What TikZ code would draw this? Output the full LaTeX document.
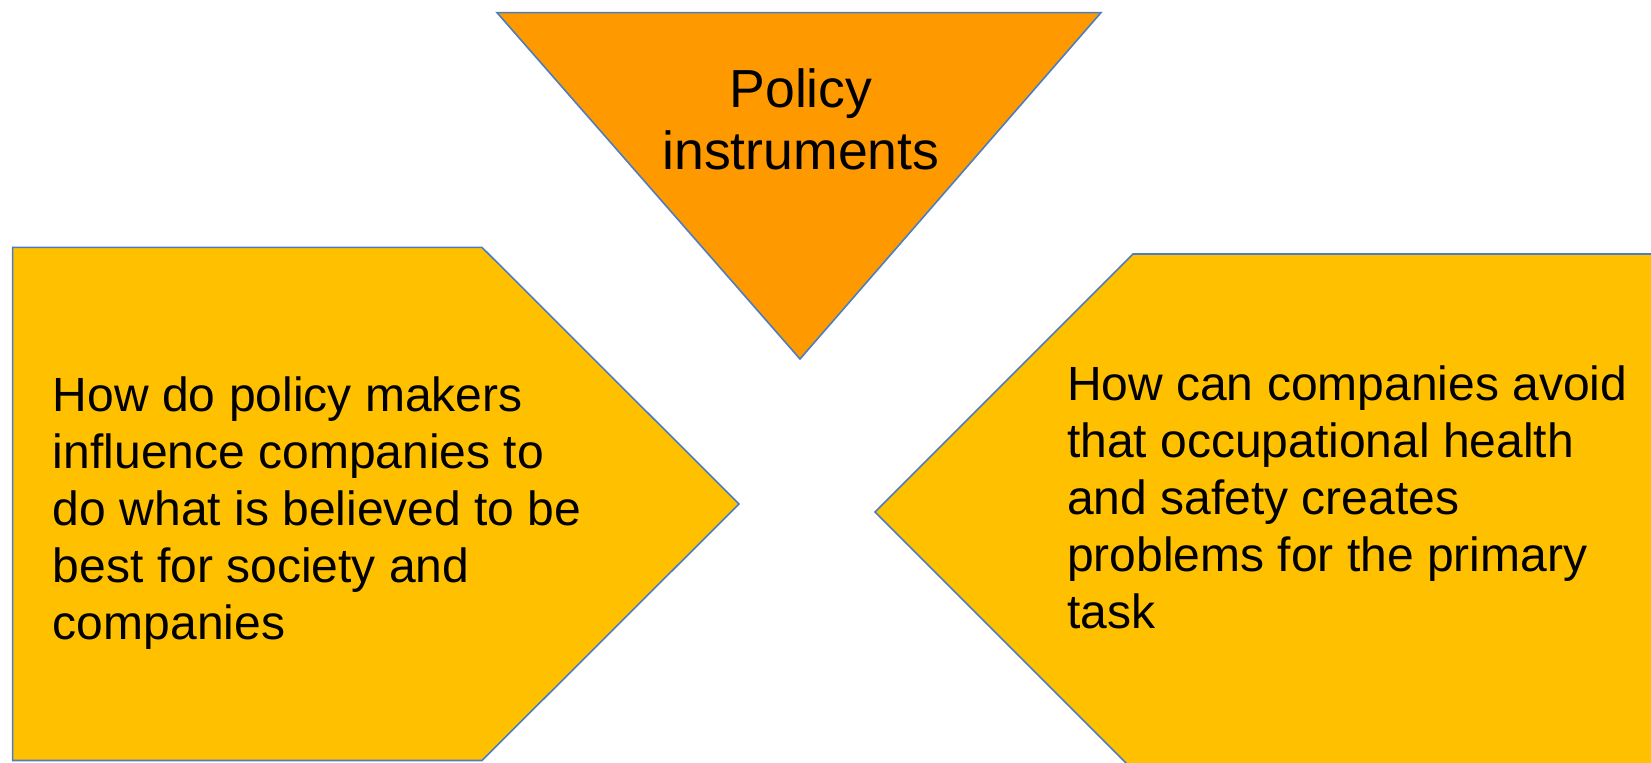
\documentclass[tikz,border=0pt]{standalone}
\usepackage{fontspec}
\setmainfont{Liberation Sans}
\usepackage{tikz}

\definecolor{policyorange}{RGB}{255,153,0}
\definecolor{questiongold}{RGB}{255,192,0}
\definecolor{edgeblue}{RGB}{74,126,193}

\begin{document}
\begin{tikzpicture}[x=0.5pt, y=-0.5pt]

\useasboundingbox (0,0) rectangle (1651,763);
\clip (0,0) rectangle (1651,763);

\draw[fill=policyorange, draw=edgeblue, line width=0.8pt] (497,12.6) -- (1101,12.6) -- (800,359) -- cycle;
\node[anchor=north, align=center, inner sep=0pt, font=\fontsize{26.8}{31}\selectfont] (policy) at (801,68) {Policy\\instruments};

\draw[fill=questiongold, draw=edgeblue, line width=0.8pt] (12.6,247.4) -- (482,247.4) -- (739,504) -- (482,760.5) -- (12.6,760.5) -- cycle;
\node[anchor=north west, align=left, inner sep=0pt, font=\fontsize{24}{28.5}\selectfont] (makers) at (52.6,376) {How do policy makers\\influence companies to\\do what is believed to be\\best for society and\\companies};

\draw[fill=questiongold, draw=edgeblue, line width=0.8pt] (875,512) -- (1133,254) -- (1665,254) -- (1665,770) -- (1133,770) -- cycle;
\node[anchor=north west, align=left, inner sep=0pt, font=\fontsize{24}{28.5}\selectfont] (companies) at (1066.6,365) {How can companies avoid\\that occupational health\\and safety creates\\problems for the primary\\task};

\end{tikzpicture}
\end{document}
